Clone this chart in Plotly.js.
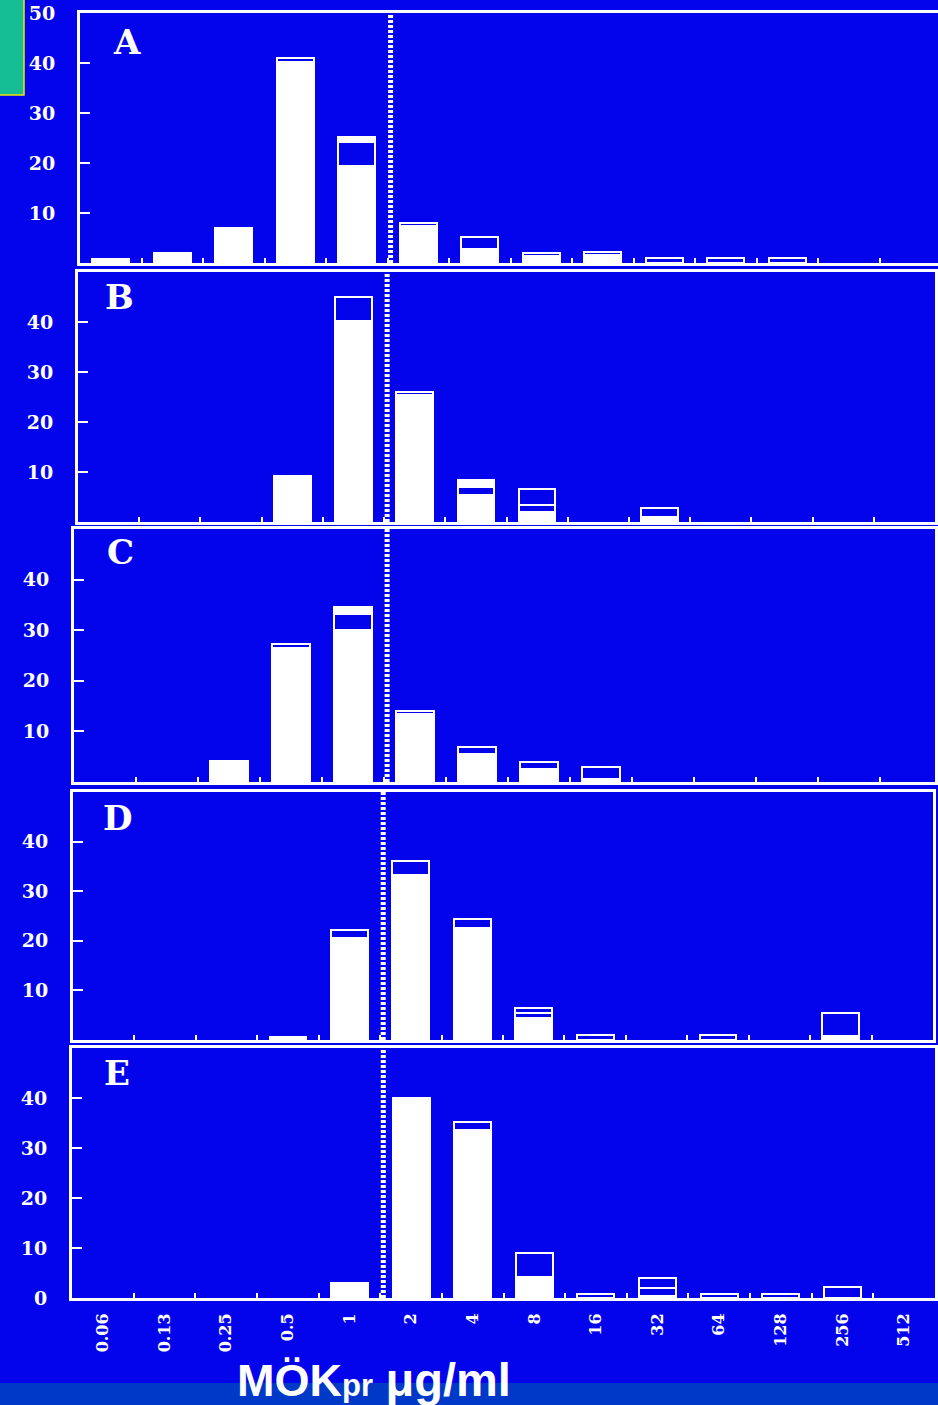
<!DOCTYPE html>
<html>
<head>
<meta charset="utf-8">
<script src="https://cdn.plot.ly/plotly-3.0.1.min.js"></script>
<style>
  html, body { margin: 0; padding: 0; background: #0404EC; }
  #chart { width: 938px; height: 1405px; }
</style>
</head>
<body>
<div id="chart"></div>
<script>
// ---------- DATA ----------
const categories = ['0.06','0.13','0.25','0.5','1','2','4','8','16','32','64','128','256','512'];
const yTickValsA = [10, 20, 30, 40, 50];
const yTickValsMid = [10, 20, 30, 40];
const yTickValsE = [0, 10, 20, 30, 40];
const panelLetters = ['A', 'B', 'C', 'D', 'E'];
const breakpointX = 4.55;   // dotted breakpoint, just right of the 1 | 2 boundary
const xTitleMain = 'MÖK';
const xTitleSub = 'pr';
const xTitleUnit = 'μg/ml';

// Panel A
const A_filled  = [0.8, 2, 7, 40.2, 19.5, 7.5, 2.8, 1.4, 1.6, 0, 0, 0, 0, 0];
const A_hollow1 = [0, 0, 0, 0.8, 4.7, 0.6, 2.4, 0.6, 0.6, 1, 1, 1, 0, 0];
const A_hollow2 = [0, 0, 0, 0, 0, 0, 0, 0, 0, 0, 0, 0, 0, 0];
const A_cap     = [0, 0, 0, 0, 1.0, 0, 0, 0, 0, 0, 0, 0, 0, 0];
// Panel B
const B_filled  = [0, 0, 0, 9.2, 40.2, 25.5, 5.4, 2, 0, 1, 0, 0, 0, 0];
const B_hollow1 = [0, 0, 0, 0, 4.8, 0.5, 1.6, 1.4, 0, 1.8, 0, 0, 0, 0];
const B_hollow2 = [0, 0, 0, 0, 0, 0, 0, 3.2, 0, 0, 0, 0, 0, 0];
const B_cap     = [0, 0, 0, 0, 0, 0, 1.4, 0, 0, 0, 0, 0, 0, 0];
// Panel C
const C_filled  = [0, 0, 4.2, 26.5, 30, 13.4, 5.5, 2.6, 0.5, 0, 0, 0, 0, 0];
const C_hollow1 = [0, 0, 0, 0.8, 3.2, 0.6, 1.5, 1.4, 2.5, 0, 0, 0, 0, 0];
const C_hollow2 = [0, 0, 0, 0, 0, 0, 0, 0, 0, 0, 0, 0, 0, 0];
const C_cap     = [0, 0, 0, 0, 1.3, 0, 0, 0, 0, 0, 0, 0, 0, 0];
// Panel D
const D_filled  = [0, 0, 0, 0.6, 20.5, 33.3, 22.6, 4.5, 0, 0, 0, 0, 0.8, 0];
const D_hollow1 = [0, 0, 0, 0, 1.7, 2.7, 1.8, 1.0, 1, 0, 1, 0, 4.7, 0];
const D_hollow2 = [0, 0, 0, 0, 0, 0, 0, 1.0, 0, 0, 0, 0, 0, 0];
const D_cap     = [0, 0, 0, 0, 0, 0, 0, 0, 0, 0, 0, 0, 0, 0];
// Panel E
const E_filled  = [0, 0, 0, 0, 3, 40, 33.6, 4.2, 0, 0.5, 0, 0, 0, 0];
const E_hollow1 = [0, 0, 0, 0, 0, 0, 1.6, 4.8, 0.8, 1.5, 0.8, 0.8, 2.2, 0];
const E_hollow2 = [0, 0, 0, 0, 0, 0, 0, 0, 0, 2.0, 0, 0, 0, 0];
const E_cap     = [0, 0, 0, 0, 0, 0, 0, 0, 0, 0, 0, 0, 0, 0];

// ---------- STYLE / LAYOUT ----------
const W = 938, H = 1405;
const BG = '#0404EC';
const px = v => v / W;
const py = v => 1 - v / H;

const panels = [
  { series: [A_filled, A_hollow1, A_hollow2, A_cap], left: 80, right: 938, top: 13,  bottom: 263,  spacing: 61.5, rightLine: false, ticks: yTickValsA,   letter: [127, 42] },
  { series: [B_filled, B_hollow1, B_hollow2, B_cap], left: 78, right: 935, top: 272, bottom: 522,  spacing: null, rightLine: true,  ticks: yTickValsMid, letter: [119, 297] },
  { series: [C_filled, C_hollow1, C_hollow2, C_cap], left: 74, right: 935, top: 529, bottom: 782,  spacing: 62,   rightLine: true,  ticks: yTickValsMid, letter: [120, 552] },
  { series: [D_filled, D_hollow1, D_hollow2, D_cap], left: 73, right: 933, top: 792, bottom: 1040, spacing: null, rightLine: true,  ticks: yTickValsMid, letter: [117, 818] },
  { series: [E_filled, E_hollow1, E_hollow2, E_cap], left: 72, right: 935, top: 1048, bottom: 1298, spacing: null, rightLine: true,  ticks: yTickValsE,   letter: [117, 1073] }
];

const segStyle = [
  { color: 'white' },  // filled
  { color: BG },       // hollow 1
  { color: BG },       // hollow 2
  { color: 'white' }   // cap
];

const tickFontY = { family: 'DejaVu Serif', size: 19, color: 'white', weight: 'bold' };
const tickFontX = { family: 'DejaVu Serif', size: 16, color: 'white', weight: 'bold' };

const traces = [];
const layout = {
  width: W, height: H, autosize: false,
  margin: { l: 0, r: 0, t: 0, b: 0, pad: 0 },
  paper_bgcolor: BG, plot_bgcolor: BG,
  barmode: 'stack', bargap: 0.4,
  showlegend: false,
  shapes: [], annotations: []
};

panels.forEach((p, i) => {
  const sfx = i === 0 ? '' : String(i + 1);
  const xa = 'x' + sfx, ya = 'y' + sfx;
  p.series.forEach((arr, s) => {
    traces.push({
      type: 'bar', x: categories, y: arr.map(v => v > 0 ? v : null),
      xaxis: xa, yaxis: ya, width: 0.6,
      marker: { color: segStyle[s].color, line: { color: 'white', width: 2 } },
      hoverinfo: 'skip', showlegend: false
    });
  });
  const xEnd = p.spacing ? -0.5 + (p.right - p.left) / p.spacing : 13.5;
  layout['xaxis' + sfx] = {
    domain: [px(p.left), px(p.right)], anchor: ya,
    type: 'category', categoryorder: 'array', categoryarray: categories,
    range: [-0.5, xEnd],
    showline: true, mirror: true, linecolor: 'white', linewidth: 3,
    ticks: 'inside', tickson: 'boundaries', ticklen: 5, tickwidth: 2, tickcolor: 'white',
    showticklabels: i === 4, tickangle: -90, tickfont: tickFontX, ticklabelstandoff: 6,
    showgrid: false, zeroline: false, fixedrange: true
  };
  layout['yaxis' + sfx] = {
    domain: [py(p.bottom), py(p.top)], anchor: xa,
    range: [0, 50], tickmode: 'array', tickvals: p.ticks,
    showline: true, mirror: p.rightLine, linecolor: 'white', linewidth: 3,
    ticks: 'inside', ticklen: 10, tickwidth: 2, tickcolor: 'white',
    tickfont: tickFontY, ticklabelstandoff: 18,
    showgrid: false, zeroline: false, fixedrange: true
  };
  // dotted breakpoint line between 1 and 2
  layout.shapes.push({
    type: 'line', xref: xa, yref: ya + ' domain', x0: breakpointX, x1: breakpointX, y0: 0, y1: 1,
    line: { color: 'white', width: 5, dash: '3px,2px' }, layer: 'above'
  });
  layout.annotations.push({
    text: panelLetters[i], xref: 'paper', yref: 'paper',
    x: px(p.letter[0]), y: py(p.letter[1]), xanchor: 'center', yanchor: 'middle',
    showarrow: false, font: { family: 'DejaVu Serif', size: 34, color: 'white', weight: 'bold' }
  });
});

// bottom strip
layout.shapes.push({
  type: 'rect', xref: 'paper', yref: 'paper', x0: 0, x1: 1, y0: 0, y1: py(1383),
  fillcolor: '#0038C8', line: { width: 0 }, layer: 'below'
});
// green corner box
layout.shapes.push({
  type: 'rect', xref: 'paper', yref: 'paper', x0: -0.01, x1: px(24), y0: py(95), y1: 1.01,
  fillcolor: '#16BE95', line: { color: '#F2E600', width: 1.5 }, layer: 'above'
});

// axis title (subscript kept on the baseline, smaller size, as in the reference)
layout.annotations.push({
  text: xTitleMain + '<span style="font-size:31px">' + xTitleSub + '</span> ' +
        '<span style="font-size:47px">' + xTitleUnit + '</span>',
  xref: 'paper', yref: 'paper',
  x: px(235), y: py(1379), xanchor: 'left', yanchor: 'middle',
  showarrow: false, font: { family: 'Liberation Sans', size: 45, color: 'white', weight: 'bold' }
});

Plotly.newPlot('chart', traces, layout, { staticPlot: true, displayModeBar: false });
</script>
</body>
</html>
